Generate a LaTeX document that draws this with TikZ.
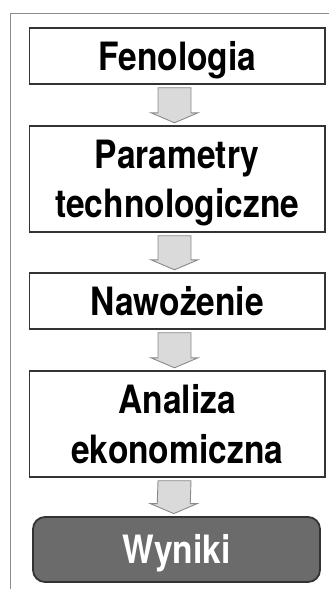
\documentclass[tikz,border=0pt]{standalone}
\usepackage{graphicx}
\usepackage{fontspec}
\setmainfont{Liberation Sans}
\newfontfamily\boxfont{TeX Gyre Heros}
\usetikzlibrary{calc}
\definecolor{framegray}{HTML}{8C8C8C}
\definecolor{boxline}{HTML}{333333}
\definecolor{arrowfill}{HTML}{DADADA}
\definecolor{arrowline}{HTML}{8A8A8A}
\definecolor{resfill}{HTML}{6B6B6B}
\newcommand{\narrowtxt}[1]{\scalebox{0.86}[1]{#1}}
\tikzset{
  stagebox/.style={draw=boxline, line width=1.4pt, fill=white, minimum width=295.5pt, inner sep=0pt, rectangle},
  resbox/.style={draw=boxline, line width=1.8pt, fill=resfill, minimum width=287pt, minimum height=65pt, rounded corners=12pt, inner sep=0pt},
  lbl/.style={anchor=base, inner sep=0pt, font=\boxfont\fontsize{39}{39}\selectfont\bfseries},
  blockarrow/.style={fill=arrowfill, draw=arrowline, line width=0.9pt, line join=miter}
}
\newcommand{\blockarr}[2]{%
  \draw[blockarrow]
    ($(#1.south)+(-19.25,3)$) -- ($(#1.south)+(13.75,3)$) --
    ($(#2.north)+(13.75,-12.5)$) -- ($(#2.north)+(20.75,-12.5)$) --
    ($(#2.north)+(-2.75,-2.5)$) --
    ($(#2.north)+(-26.25,-12.5)$) -- ($(#2.north)+(-19.25,-12.5)$) -- cycle;}
\begin{document}
\begin{tikzpicture}[x=1pt,y=-1pt]
\useasboundingbox (0,0) rectangle (329,589);
% outer frame (partly outside the picture)
\coordinate (frameTL) at (10,13.3);
\coordinate (frameTR) at (329,13.3);
\coordinate (frameBL) at (10,589);
\draw[framegray, line width=0.9pt] (frameTR) -- (frameTL) -- (frameBL);
% boxes
\node[stagebox, minimum height=56pt] (fen) at (177.25,56) {};
\node[stagebox, minimum height=106pt] (par) at (177.25,179) {};
\node[stagebox, minimum height=56pt] (naw) at (177.25,301) {};
\node[stagebox, minimum height=106pt] (ana) at (177.25,424) {};
\node[resbox] (wyn) at (176.5,549.5) {};
% texts
\node[lbl] (fenT) at ($(fen.center)+(0,14)$) {\narrowtxt{Fenologia}};
\node[lbl] (parT1) at ($(par.center)+(0,-10.5)$) {\narrowtxt{Parametry}};
\node[lbl] (parT2) at ($(par.center)+(0,38.5)$) {\narrowtxt{technologiczne}};
\node[lbl] (nawT) at ($(naw.center)+(0,14)$) {\narrowtxt{Nawożenie}};
\node[lbl] (anaT1) at ($(ana.center)+(0,-11)$) {\narrowtxt{Analiza}};
\node[lbl] (anaT2) at ($(ana.center)+(0,39.5)$) {\narrowtxt{ekonomiczna}};
\node[lbl, text=white] (wynT) at ($(wyn.center)+(0,13.5)$) {\narrowtxt{Wyniki}};
% arrows
\blockarr{fen}{par}
\blockarr{par}{naw}
\blockarr{naw}{ana}
\blockarr{ana}{wyn}
\end{tikzpicture}
\end{document}
